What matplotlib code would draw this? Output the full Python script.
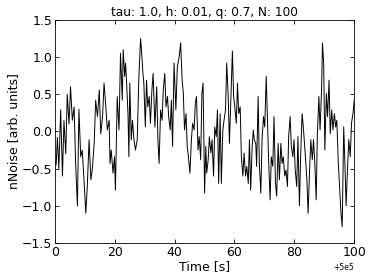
import matplotlib
matplotlib.use("Agg")
import matplotlib.pyplot as plt

# noise trace (time in s after 5e5, value in arb. units)
time_s = [0.0, 0.4, 0.8, 1.3, 1.9, 2.5, 3.0, 3.6, 4.1, 4.7, 5.2, 5.8, 6.4, 6.9, 7.5, 8.0, 8.6, 9.1, 9.7,
          10.3, 10.8, 11.4, 12.0, 12.5, 13.1, 13.6, 14.2, 14.8, 15.3, 15.9, 16.4,
          17.0, 17.5, 18.1, 18.4, 18.8, 19.4, 19.9, 20.2, 20.8, 21.4, 21.9, 22.5, 22.8, 23.3, 23.6, 23.9,
          24.4, 24.7, 25.0, 25.5, 25.9, 26.4, 26.9, 27.5, 28.0, 28.6, 28.9, 29.4, 29.7, 30.2, 30.6, 31.0,
          31.5, 31.9, 32.4, 32.8,
          33.4, 34.0, 34.4, 34.8, 35.3, 35.8, 36.2, 36.7, 37.1, 37.6, 38.0, 38.5, 38.9, 39.3, 39.8, 40.4,
          40.9, 41.5, 42.0, 42.5, 42.9, 43.3, 43.8, 44.2, 44.7, 45.1, 45.6, 46.0, 46.5, 46.9, 47.3, 47.8,
          48.2, 48.7, 49.1, 49.5,
          50.0, 50.4, 50.7, 51.2, 51.6, 52.1, 52.5, 53.0, 53.4, 53.9, 54.3, 54.7, 55.2, 55.6, 56.1, 56.5,
          57.0, 57.4, 57.9, 58.3, 58.8, 59.3, 59.7, 60.1, 60.6, 61.0, 61.4, 61.9, 62.3, 62.8, 63.2, 63.7,
          64.1, 64.6, 65.0, 65.4, 65.9, 66.3,
          66.6, 67.1, 67.4, 67.9, 68.3, 68.8, 69.2, 69.7, 70.1, 70.6, 71.0, 71.4, 71.9, 72.3, 72.8, 73.2,
          73.7, 74.1, 74.6, 75.0, 75.5, 75.9, 76.3, 76.8, 77.2, 77.7, 78.1, 78.6, 79.0, 79.5, 79.9, 80.3,
          80.8, 81.2, 81.7, 82.1, 82.6, 83.0,
          83.7, 84.2, 84.6, 85.1, 85.5, 86.0, 86.4, 86.8, 87.3, 87.7, 88.2, 88.6, 89.1, 89.4, 89.8, 90.2,
          90.7, 91.1, 91.6, 92.0, 92.5, 92.9, 93.4, 93.8, 94.2, 94.7, 95.1, 95.6, 96.0, 96.5, 96.9, 97.3,
          97.8, 98.2, 98.7, 99.1, 99.6, 100.0]

noise = [-0.40, -0.45, -0.08, -0.50, 0.29, -0.60, 0.15, -0.30, 0.50, 0.10, 0.60, 0.15, 0.33, -0.43, -1.00, 0.30, -0.34, -0.25, -0.65,
         -1.10, -0.74, -0.11, -0.65, -0.50, -0.16, 0.42, 0.20, 0.56, -0.03, 0.20, 0.65,
         0.33, 0.02, 0.15, -0.43, -0.25, -0.56, -0.34, -0.79, 0.47, 0.02, 1.05, 0.42, 1.10, 0.74, 0.92, 0.69,
         0.24, -0.34, 0.65, -0.11, 0.15, -0.11, -0.25, -0.11, 0.69, 1.25, 1.10, 0.78, 0.65, 0.06, 0.69, 0.33,
         0.47, 0.11, 0.56, 0.78,
         0.06, 0.60, -0.11, -0.43, 0.29, 0.15, 0.56, 0.78, 0.33, 0.47, 0.20, 0.02, 0.42, -0.20, 0.92, 0.29,
         0.87, 1.00, 1.19, 0.69, 0.51, 0.02, 0.24, -0.20, -0.38, -0.56, -0.11, 0.11, 0.02, 0.38, 0.47, -0.25,
         -0.07, -0.38, 0.51, 0.65,
         -0.83, -0.20, -0.56, -0.38, -0.07, -0.29, -0.11, -0.60, 0.06, -0.07, 0.29, -0.70, 0.24, -0.70, 0.02, 0.15,
         0.29, 0.92, 0.47, -0.16, 0.47, 1.08, 0.47, 0.33, 0.11, 0.65, 0.24, 0.33, -0.34, -0.60, -0.29, -0.60,
         -0.47, -0.70, -0.11, -0.79, -0.20, 0.02,
         -0.11, -0.16, -0.47, 0.47, -0.43, -0.83, -0.11, 0.20, 0.06, 0.74, 0.20, -0.38, -0.92, -0.34, -0.47, 0.20,
         -0.70, -0.87, -0.16, -0.65, -0.16, -0.43, -0.34, -0.60, -0.52, -0.74, -0.07, 0.20, -0.20, -0.34, -0.11, -0.52,
         -0.74, -0.07, -1.00, -0.34, 0.24, 0.06,
         -0.34, -0.65, -1.10, -0.52, -0.11, -0.38, -0.11, -0.38, -0.92, -0.03, 0.47, 0.02, 0.56, 1.19, 0.92, -0.25,
         0.51, 0.20, 0.69, -0.03, 0.29, 0.02, 0.24, 0.06, 0.15, -0.43, -0.74, -1.10, -1.28, 0.06, -0.43, -1.00,
         -0.47, -0.11, -0.34, 0.11, 0.24, 0.42]

t0 = 5e5
time_abs = [t0 + t for t in time_s]

plt.rcParams['xtick.direction'] = 'in'
plt.rcParams['ytick.direction'] = 'in'
plt.rcParams['xtick.top'] = True
plt.rcParams['ytick.right'] = True

fig = plt.figure(figsize=(3.74, 2.80), dpi=100)
ax = fig.add_axes([0.147, 0.132, 0.80, 0.797])
ax.plot(time_abs, noise, color='k', lw=0.7)

ax.set_xlim(t0, t0 + 100)
ax.set_ylim(-1.5, 1.5)
ax.set_xticks([t0 + v for v in [0, 20, 40, 60, 80, 100]])
ax.set_yticks([-1.5, -1.0, -0.5, 0.0, 0.5, 1.0, 1.5])
ax.ticklabel_format(axis='x', useOffset=t0)
ax.tick_params(labelsize=9, length=3, width=0.6, pad=2)
ax.xaxis.get_offset_text().set_fontsize(5.5)
for s in ax.spines.values():
    s.set_linewidth(0.6)

ax.set_title("tau: 1.0, h: 0.01, q: 0.7, N: 100", fontsize=8.7, pad=3)
ax.set_xlabel("Time [s]", fontsize=9, labelpad=1)
ax.set_ylabel("nNoise [arb. units]", fontsize=9, labelpad=1)

fig.savefig("out.png", dpi=100)
